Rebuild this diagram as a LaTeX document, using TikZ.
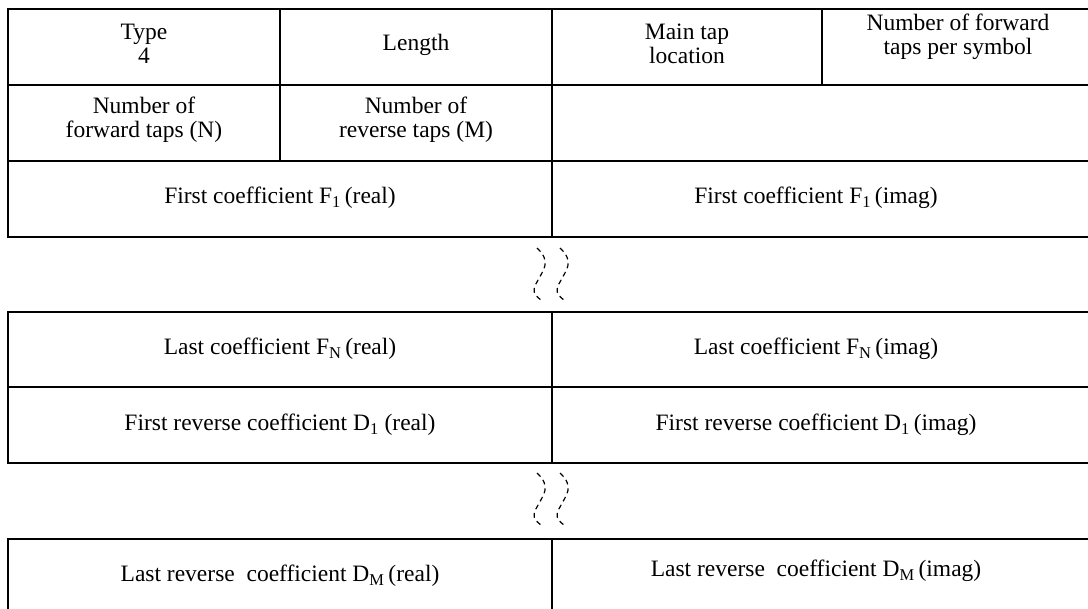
\documentclass[tikz,border=0pt]{standalone}
\usepackage{fontspec}
\setmainfont{Liberation Serif}
\begin{document}
\begin{tikzpicture}[x=1pt,y=-1pt,
  grid/.style={line width=2.8pt, line join=miter},
  cell/.style={align=center, font=\fontsize{23.5}{24}\selectfont, inner sep=0pt},
  brk/.style={line width=1.2pt, dash pattern=on 5pt off 4pt}]
\useasboundingbox (0,0) rectangle (1088,609);
% block 1
\draw[grid] (1088,9) -- (8,9) -- (8,237) -- (1088,237);
\draw[grid] (8,85) -- (1088,85);
\draw[grid] (8,161) -- (1088,161);
\draw[grid] (280,9) -- (280,161);
\draw[grid] (552,9) -- (552,237);
\draw[grid] (822,9) -- (822,85);
% block 2
\draw[grid] (1088,312) -- (8,312) -- (8,463) -- (1088,463);
\draw[grid] (8,387) -- (1088,387);
\draw[grid] (552,312) -- (552,463);
% block 3
\draw[grid] (8,612) -- (8,539) -- (1088,539);
\draw[grid] (552,539) -- (552,612);
% texts
\node[cell] (type) at (144,44) {Type\\4};
\node[cell] (len) at (416,45) {Length};
\node[cell] (main) at (687,44) {Main tap\\location};
\node[cell] (nfps) at (958,37) {Number of forward\\taps per symbol};
\node[cell] (nf) at (144,120) {Number of\\forward taps (N)};
\node[cell] (nr) at (416,120) {Number of\\reverse taps (M)};
\node[cell] (f1r) at (280,198) {First coefficient F\textsubscript{1}\,(real)};
\node[cell] (f1i) at (816,198) {First coefficient F\textsubscript{1}\,(imag)};
\node[cell] (fnr) at (280,349) {Last coefficient F\textsubscript{N}\,(real)};
\node[cell] (fni) at (816,349) {Last coefficient F\textsubscript{N}\,(imag)};
\node[cell] (d1r) at (280,425) {First reverse coefficient D\textsubscript{1} (real)};
\node[cell] (d1i) at (816,425) {First reverse coefficient D\textsubscript{1}\,(imag)};
\node[cell] (dmr) at (280,576) {Last reverse\ \ coefficient D\textsubscript{M}\,(real)};
\node[cell] (dmi) at (816,571) {Last reverse\ \ coefficient D\textsubscript{M}\,(imag)};
% break marks
\foreach \dy in {0,225} {
  \foreach \dx in {0,23} {
    \draw[brk] (537+\dx,248+\dy) .. controls (552+\dx,262+\dy) and (543+\dx,270+\dy) .. (537+\dx,282+\dy)
      .. controls (532+\dx,290+\dy) and (533+\dx,294+\dy) .. (541+\dx,300+\dy);
  }
}
\end{tikzpicture}
\end{document}
